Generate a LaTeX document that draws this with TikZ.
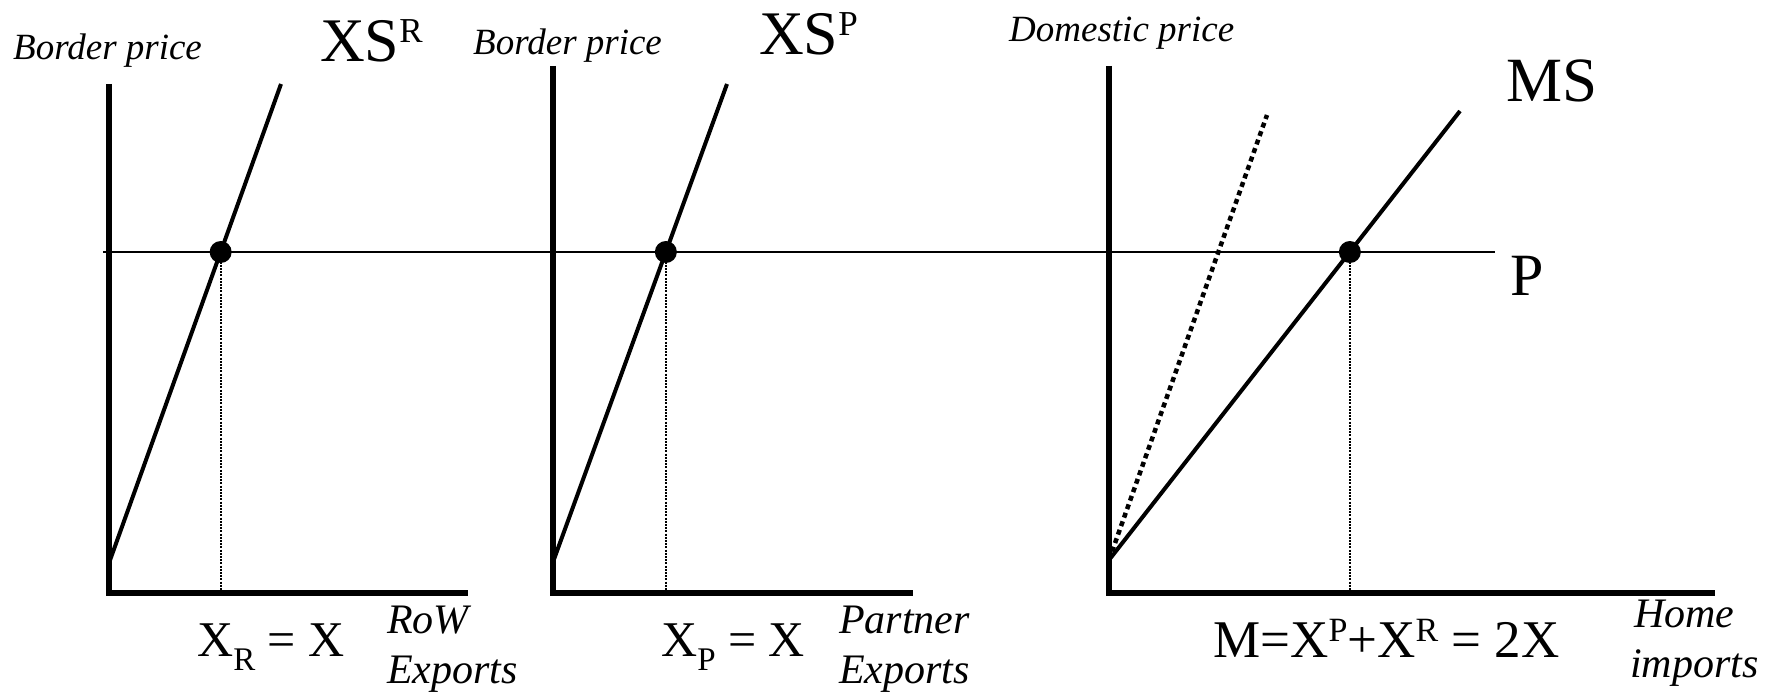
\documentclass[tikz,border=0pt]{standalone}
\usepackage{fontspec}
\setmainfont{Liberation Serif}
\newcommand{\fsz}[1]{\fontsize{#1}{#1}\selectfont}
\newcommand{\hisup}[3]{\raisebox{#1}{\fsz{#2}#3}}
\begin{document}
\begin{tikzpicture}[x=1pt,y=-1pt,
  axis/.style={line width=6pt, line join=miter},
  curve/.style={line width=4pt},
  pline/.style={line width=2pt},
  guide/.style={line width=2pt, dash pattern=on 2pt off 1.2pt},
  steepdot/.style={line width=4.5pt, dash pattern=on 5pt off 4pt},
  eqdot/.style={circle, fill=black, inner sep=0pt, minimum size=22pt},
  lbl/.style={anchor=base west, inner sep=0pt},
  axlbl/.style={lbl, font=\fsz{37}\itshape},
  qlbl/.style={lbl, font=\fsz{42}\itshape},
  big/.style={lbl, font=\fsz{62}},
  eq/.style={lbl, font=\fsz{50}},
]
\useasboundingbox (0,0) rectangle (1781,695);

% price line
\coordinate (pl) at (103,252);
\coordinate (pr) at (1495,252);
\draw[pline] (pl) -- (pr);

% panel 1
\coordinate (a1top) at (109,84);
\coordinate (a1o) at (109,593);
\coordinate (a1end) at (468,593);
\draw[axis] (a1top) -- (a1o) -- (a1end);
\coordinate (s1lo) at (109,563);
\coordinate (s1hi) at (281,84);
\draw[curve] (s1lo) -- (s1hi);
\coordinate (e1) at (intersection of s1lo--s1hi and pl--pr);
\draw[guide] (e1) -- (e1 |- a1o);
\node[eqdot] (d1) at (e1) {};

% panel 2
\coordinate (a2top) at (553,66);
\coordinate (a2o) at (553,593);
\coordinate (a2end) at (913,593);
\draw[axis] (a2top) -- (a2o) -- (a2end);
\coordinate (s2lo) at (553,562);
\coordinate (s2hi) at (727,84);
\draw[curve] (s2lo) -- (s2hi);
\coordinate (e2) at (intersection of s2lo--s2hi and pl--pr);
\draw[guide] (e2) -- (e2 |- a2o);
\node[eqdot] (d2) at (e2) {};

% panel 3
\coordinate (a3top) at (1109,66);
\coordinate (a3o) at (1109,593);
\coordinate (a3end) at (1715,593);
\draw[axis] (a3top) -- (a3o) -- (a3end);
\coordinate (m0) at (1109,560);
\coordinate (mhi) at (1460,111);
\coordinate (dhi) at (1267,115);
\draw[steepdot] (m0) -- (dhi);
\draw[curve] (m0) -- (mhi);
\coordinate (e3) at (intersection of m0--mhi and pl--pr);
\draw[guide] (e3) -- (e3 |- a3o);
\node[eqdot] (d3) at (e3) {};

% axis labels
\node[axlbl] (bp1) at (13,60) {Border price};
\node[axlbl] (bp2) at (473,55) {Border price};
\node[axlbl] (dp) at (1009,42) {Domestic price};

% curve labels
\node[big] (xsr) at (320,62) {XS\hisup{19pt}{35}{R}};
\node[big] (xsp) at (759,55) {XS\hisup{19pt}{35}{P}};
\node[lbl, font=\fsz{63}] (ms) at (1506,102) {MS};
\node[lbl, font=\fsz{60}] (p) at (1510,295) {P};

% quantity labels
\node[eq] (xr) at (197,656) {X\hisup{-14pt}{33}{R} = X};
\node[eq] (xp) at (661,656) {X\hisup{-14pt}{33}{P} = X};
\node[lbl, font=\fsz{53}] (mm) at (1213,657) {M=X\hisup{16pt}{34}{P}+X\hisup{16pt}{34}{R} = 2X};

\node[qlbl] (row1) at (387,633) {RoW};
\node[qlbl] (row2) at (387,683) {Exports};
\node[qlbl] (par1) at (839,633) {Partner};
\node[qlbl] (par2) at (839,683) {Exports};
\node[qlbl] (hom1) at (1634,627) {Home};
\node[qlbl] (hom2) at (1630,677) {imports};
\end{tikzpicture}
\end{document}
